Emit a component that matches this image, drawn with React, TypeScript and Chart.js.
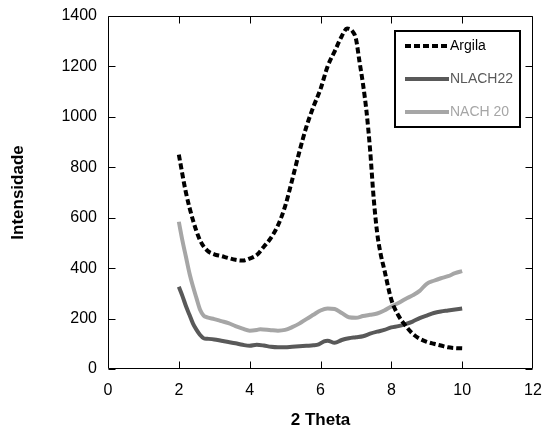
import React, { useEffect, useRef } from 'react';
import { Chart, registerables } from 'chart.js';

Chart.register(...registerables);

const FONT = '"Liberation Sans", Arial, Helvetica, sans-serif';

// Argila (dashed black)
const argilaX = [2.0, 2.2, 2.4, 2.6, 2.8, 3.0, 3.2, 3.4, 3.6, 3.8, 4.0, 4.2, 4.4, 4.6, 4.8, 5.0, 5.2, 5.4, 5.6, 5.8, 6.0, 6.2, 6.4, 6.6, 6.75, 6.9, 7.0, 7.1, 7.2, 7.3, 7.4, 7.5, 7.6, 7.7, 7.8, 8.0, 8.2, 8.4, 8.6, 8.8, 9.0, 9.2, 9.4, 9.6, 9.8, 10.0];
const argilaY = [850, 700, 590, 510, 470, 455, 448, 440, 433, 430, 438, 452, 485, 520, 570, 645, 750, 860, 960, 1040, 1110, 1200, 1260, 1320, 1350, 1340, 1310, 1220, 1130, 1020, 870, 680, 540, 455, 395, 275, 212, 172, 140, 120, 108, 100, 93, 86, 83, 82];

// NLACH22 (dark grey)
const nlachX = [2.0, 2.1, 2.2, 2.3, 2.4, 2.5, 2.6, 2.7, 2.8, 3.0, 3.2, 3.4, 3.6, 3.8, 4.0, 4.2, 4.4, 4.6, 4.8, 5.0, 5.2, 5.4, 5.6, 5.8, 5.95, 6.1, 6.2, 6.4, 6.6, 6.8, 7.0, 7.2, 7.4, 7.6, 7.8, 8.0, 8.2, 8.4, 8.6, 8.8, 9.0, 9.2, 9.4, 9.6, 9.8, 10.0];
const nlachY = [326, 290, 250, 215, 180, 155, 135, 122, 120, 117, 112, 107, 102, 96, 92, 96, 93, 88, 86, 86, 88, 90, 92, 94, 98, 110, 112, 104, 115, 122, 126, 130, 140, 148, 155, 165, 170, 178, 188, 202, 212, 222, 228, 232, 236, 240];

// NACH 20 (light grey)
const nachX = [2.0, 2.1, 2.2, 2.3, 2.4, 2.5, 2.6, 2.7, 2.8, 3.0, 3.2, 3.4, 3.6, 3.8, 4.0, 4.2, 4.3, 4.6, 4.8, 5.0, 5.2, 5.4, 5.6, 5.8, 6.0, 6.2, 6.4, 6.6, 6.8, 7.0, 7.2, 7.4, 7.6, 7.8, 8.0, 8.2, 8.4, 8.6, 8.8, 9.0, 9.2, 9.4, 9.6, 9.8, 10.0];
const nachY = [584, 510, 445, 380, 327, 280, 235, 212, 205, 198, 190, 182, 170, 160, 152, 155, 158, 154, 152, 155, 166, 180, 198, 215, 232, 240, 238, 222, 205, 203, 210, 215, 220, 232, 248, 262, 278, 292, 310, 338, 350, 360, 368, 380, 388];

const seriesNames = ['Argila', 'NLACH22', 'NACH 20'];
const seriesColors = ['#000000', '#595959', '#a6a6a6'];

const xTickValues = [0, 2, 4, 6, 8, 10, 12];
const yTickValues = [0, 200, 400, 600, 800, 1000, 1200, 1400];

const toPoints = (xs: number[], ys: number[]) => xs.map((x, i) => ({ x, y: ys[i] }));

const framePlugin = {
  id: 'frameTicksLegend',
  afterDatasetsDraw(chart: any) {
    const { ctx, chartArea: a, scales } = chart;
    const xs = scales.x;
    const ys = scales.y;
    ctx.save();
    ctx.strokeStyle = '#000';
    ctx.lineWidth = 1;
    const L = Math.round(a.left) + 0.5;
    const R = Math.round(a.right) - 0.5;
    const T = Math.round(a.top) + 0.5;
    const B = Math.round(a.bottom) - 0.5;
    ctx.beginPath();
    ctx.rect(L, T, R - L, B - T);
    ctx.stroke();
    const tl = 7;
    ctx.beginPath();
    xTickValues.forEach((v) => {
      if (v === xTickValues[0] || v === xTickValues[xTickValues.length - 1]) return;
      const px = Math.round(xs.getPixelForValue(v)) + 0.5;
      ctx.moveTo(px, B);
      ctx.lineTo(px, B - tl);
      ctx.moveTo(px, T);
      ctx.lineTo(px, T + tl);
    });
    yTickValues.forEach((v) => {
      const py = Math.round(ys.getPixelForValue(v)) + 0.5;
      ctx.moveTo(L, py);
      ctx.lineTo(L + tl, py);
      ctx.moveTo(R, py);
      ctx.lineTo(R - tl, py);
    });
    ctx.stroke();

    // legend box
    const bx = a.right - 138;
    const by = a.top + 15;
    const bw = 125;
    const bh = 96;
    ctx.fillStyle = '#fff';
    ctx.fillRect(bx, by, bw, bh);
    ctx.lineWidth = 2;
    ctx.strokeStyle = '#000';
    ctx.strokeRect(bx, by, bw, bh);
    ctx.font = `14px ${FONT}`;
    ctx.textBaseline = 'middle';
    ctx.textAlign = 'left';
    chart.data.datasets.forEach((ds: any, i: number) => {
      const ly = by + 15 + i * 33;
      ctx.beginPath();
      ctx.lineWidth = 4;
      ctx.strokeStyle = ds.borderColor;
      ctx.setLineDash(ds.borderDash || []);
      ctx.lineCap = 'butt';
      ctx.moveTo(bx + 10, ly);
      ctx.lineTo(bx + 54, ly);
      ctx.stroke();
      ctx.setLineDash([]);
      ctx.fillStyle = ds.borderColor;
      ctx.fillText(ds.label, bx + 55, ly + 0.5);
    });
    ctx.restore();
  },
};

export default function App() {
  const ref = useRef<HTMLCanvasElement | null>(null);
  useEffect(() => {
    if (!ref.current) return;
    const chart = new Chart(ref.current, {
      type: 'line',
      data: {
        datasets: [
          {
            label: seriesNames[0],
            data: toPoints(argilaX, argilaY),
            borderColor: seriesColors[0],
            borderWidth: 4,
            borderDash: [6, 3],
            pointRadius: 0,
            cubicInterpolationMode: 'monotone',
            fill: false,
          },
          {
            label: seriesNames[1],
            data: toPoints(nlachX, nlachY),
            borderColor: seriesColors[1],
            borderWidth: 4,
            pointRadius: 0,
            cubicInterpolationMode: 'monotone',
            fill: false,
          },
          {
            label: seriesNames[2],
            data: toPoints(nachX, nachY),
            borderColor: seriesColors[2],
            borderWidth: 4,
            pointRadius: 0,
            cubicInterpolationMode: 'monotone',
            fill: false,
          },
        ],
      },
      options: {
        animation: false,
        responsive: false,
        devicePixelRatio: 1,
        layout: { padding: { left: 0, right: 9, top: 16, bottom: 0 } },
        plugins: { legend: { display: false }, tooltip: { enabled: false } },
        scales: {
          x: {
            type: 'linear',
            min: 0,
            max: 12,
            afterBuildTicks: (s: any) => {
              s.ticks = xTickValues.map((v) => ({ value: v }));
            },
            ticks: {
              font: { size: 16, family: FONT },
              color: '#000',
              padding: 12,
              maxRotation: 0,
              autoSkip: false,
              callback: (v: any) => String(v),
            },
            grid: { display: false, drawTicks: false },
            border: { display: false },
            title: {
              display: true,
              text: '2 Theta',
              color: '#000',
              font: { size: 17, weight: 'bold', family: FONT, lineHeight: 0.8 },
              padding: { top: 0, bottom: 0 },
            },
            afterFit: (s: any) => {
              s.height = 58;
              s.paddingLeft = 0;
              s.paddingRight = 0;
            },
          },
          y: {
            type: 'linear',
            min: 0,
            max: 1400,
            afterBuildTicks: (s: any) => {
              s.ticks = yTickValues.map((v) => ({ value: v }));
            },
            ticks: {
              font: { size: 16, family: FONT },
              color: '#000',
              padding: 11,
              autoSkip: false,
              callback: (v: any) => String(v),
            },
            grid: { display: false, drawTicks: false },
            border: { display: false },
            title: {
              display: true,
              text: 'Intensidade',
              color: '#000',
              font: { size: 17, weight: 'bold', family: FONT, lineHeight: 1.2 },
              padding: { top: 8, bottom: 0 },
            },
            afterFit: (s: any) => {
              s.width = 108;
              s.paddingTop = 0;
              s.paddingBottom = 0;
            },
          },
        },
      },
      plugins: [framePlugin],
    } as any);
    return () => chart.destroy();
  }, []);
  return (
    <div style={{ position: 'absolute', left: 0, top: 0, width: 542, height: 427, background: '#fff' }}>
      <canvas ref={ref} width={542} height={427} style={{ display: 'block' }} />
    </div>
  );
}
